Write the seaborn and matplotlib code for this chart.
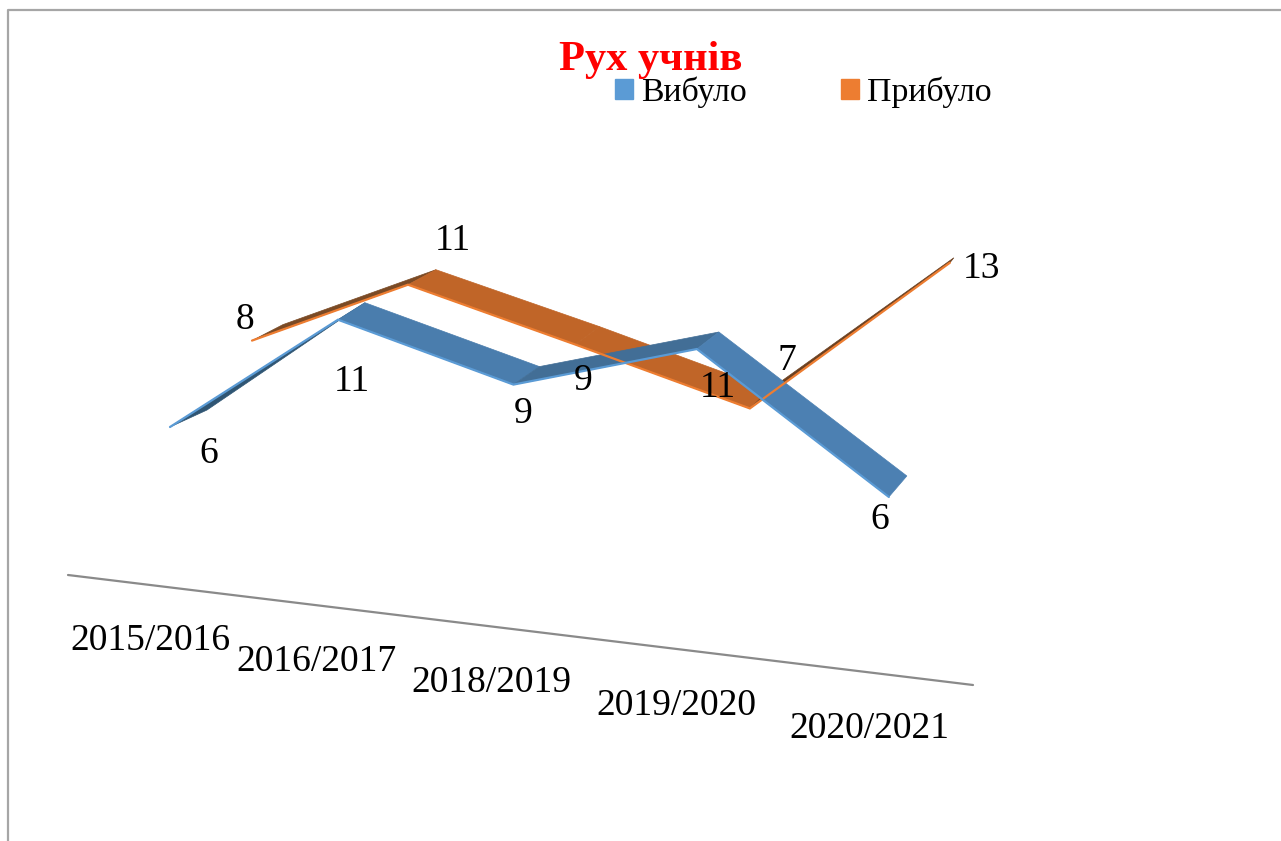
import matplotlib
matplotlib.use("Agg")
import matplotlib.pyplot as plt
from matplotlib.patches import Patch, Polygon
import numpy as np
import pandas as pd
import seaborn as sns

# ---------- data ----------
title = "Рух учнів"
categories = ["2015/2016", "2016/2017", "2018/2019", "2019/2020", "2020/2021"]
vybulo = [6, 11, 9, 11, 6]
prybulo = [8, 11, 9, 7, 13]

# ---------- 3-D look: projection and styling ----------
BLUE, ORANGE = "#5b9bd5", "#ed7d31"
BLUE_FACES = ["#2f5573", "#4a7dad", "#426e96", "#4c80b2"]
ORANGE_FACES = ["#7a4a25", "#c06528", "#c06528", "#6b4020"]
# screen shift of each series' front edge and its ribbon depth vector, per category
FRONT_V = ([0, 0, 0, 0, 0], [0, 0, 0, 0, 0])
DEPTH_V = ([37, 27, 26, 22, 18], [-17, -17, -18, -17, -21])
FRONT_P = ([82, 70, 62, 53, 61], [-38, -35, -40, -44, -49])
DEPTH_P = ([31, 28, 24, 20, 4], [-16, -15, -18, -19, -5])
X0, Y0, DX, DY, DV, K, V0 = 170, 427, 164.4, 16, -24.2, 0.0213, 6


def project(values):
    i = np.arange(len(values), dtype=float)
    w = 1 - K * i
    return X0 + DX * i / w, Y0 + (DY * i + DV * (np.asarray(values, float) - V0)) / w


def ribbon(ax, values, front, depth, faces, edge, name):
    x, y = project(values)
    fx, fy = x + np.array(front[0]), y + np.array(front[1])
    bx, by = fx + np.array(depth[0]), fy + np.array(depth[1])
    for s, face in enumerate(faces):
        pts = [(fx[s], fy[s]), (bx[s], by[s]), (bx[s + 1], by[s + 1]), (fx[s + 1], fy[s + 1])]
        ax.add_patch(Polygon(pts, closed=True, facecolor=face, edgecolor=face, lw=0.5, zorder=2))
    df = pd.DataFrame({"x": fx, "y": fy, "series": name})
    sns.lineplot(data=df, x="x", y="y", sort=False, estimator=None, color=edge,
                 lw=1.6, ax=ax, legend=False, zorder=3, solid_joinstyle="miter")


sns.set_theme(style="white")
plt.rcParams["font.family"] = ["Liberation Serif", "DejaVu Serif"]

fig = plt.figure(figsize=(12.81, 8.41), dpi=100)
ax = fig.add_axes([0, 0, 1, 1])
ax.set_xlim(0, 1281)
ax.set_ylim(841, 0)
ax.set_axis_off()

# chart frame (right side is cut off in the reference)
ax.plot([1281, 8, 8], [10, 10, 841], color="#a6a6a6", lw=1.6)

ribbon(ax, prybulo, FRONT_P, DEPTH_P, ORANGE_FACES, ORANGE, "Прибуло")
ribbon(ax, vybulo, FRONT_V, DEPTH_V, BLUE_FACES, BLUE, "Вибуло")

# category axis line + labels
ax.plot([68, 973], [575, 685], color="#8a8a8a", lw=1.6, zorder=1)
cat_xy = [(150, 641), (316, 662), (491, 683), (676, 706), (869, 729)]
for lab, (cx, cy) in zip(categories, cat_xy):
    ax.text(cx, cy, lab, ha="center", va="center", fontsize=27, color="black")

# data labels
v_xy = [(209, 454), (352, 382), (523, 414), (718, 388), (880, 520)]
p_xy = [(245, 320), (453, 241), (583, 381), (787, 361), (981, 269)]
for vals, xys in ((vybulo, v_xy), (prybulo, p_xy)):
    for val, (lx, ly) in zip(vals, xys):
        ax.text(lx, ly, str(val), ha="center", va="center", fontsize=27, color="black", zorder=5)

ax.set_title(title, color="red", fontsize=30.6, fontweight="bold", x=650.5 / 1281,
             y=1 - 70 / 841, va="baseline", pad=0)

ax.legend(handles=[Patch(color=BLUE, label="Вибуло"), Patch(color=ORANGE, label="Прибуло")],
          ncol=2, frameon=False, fontsize=24.4, handlelength=0.54, handleheight=0.54,
          handletextpad=0.22, columnspacing=2.79, borderpad=0, borderaxespad=0, labelcolor="black",
          loc="center left", bbox_to_anchor=(615 / 1281, 1 - 92 / 841))

fig.savefig("out.png", dpi=100, facecolor="white")
